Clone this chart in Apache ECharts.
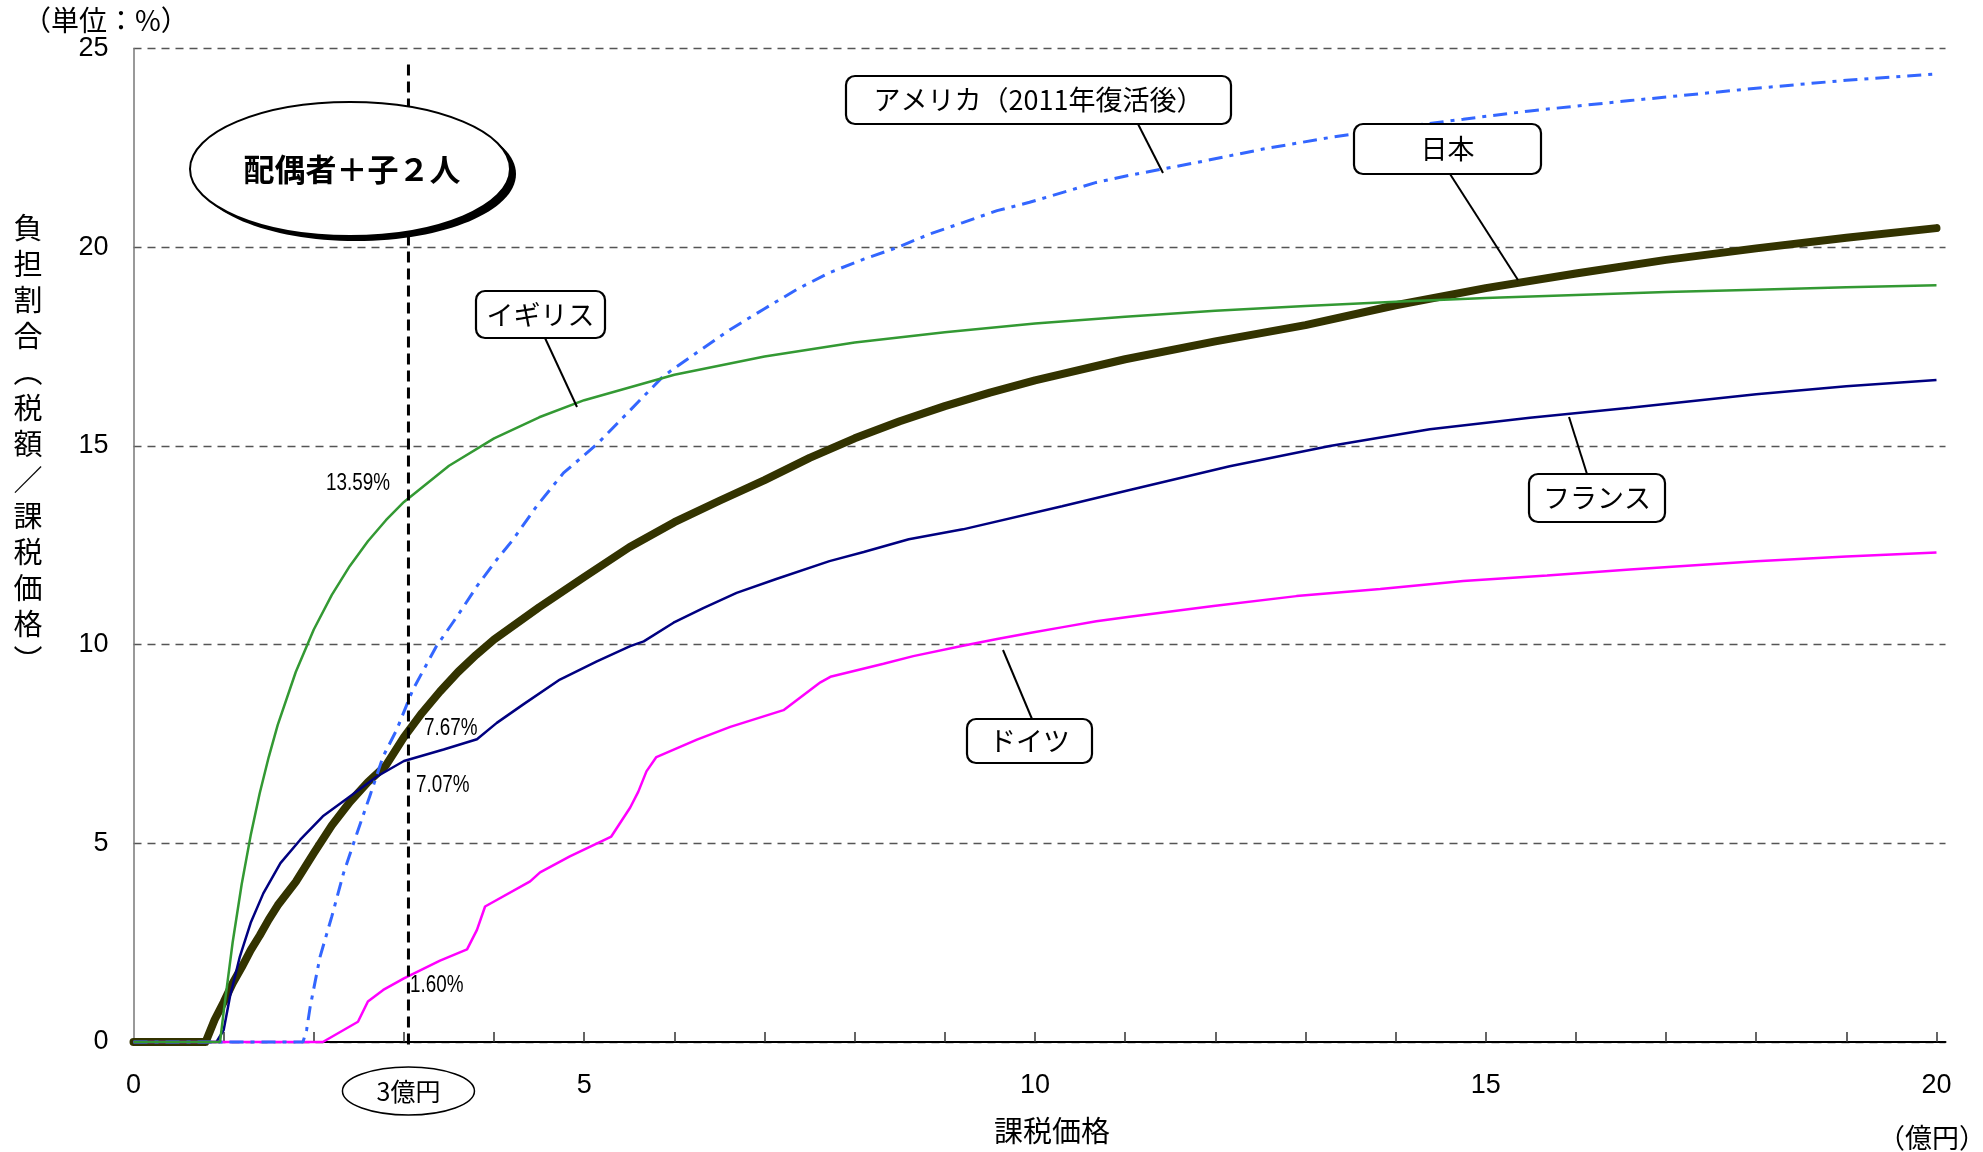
<!DOCTYPE html>
<html>
<head>
<meta charset="utf-8">
<script src="https://cdn.jsdelivr.net/npm/echarts@6.0.0/dist/echarts.min.js"></script>
<style>
html,body{margin:0;padding:0;background:#fff;}
#main{width:1983px;height:1152px;}
</style>
</head>
<body>
<div id="main"></div>
<script>
// ---- data (x: 課税価格 億円, y: 負担割合 %) ----
const japan = [[0,0],[0.8,0],[0.9,0.56],[1.0,1.0],[1.1,1.48],[1.2,1.88],[1.3,2.31],[1.4,2.68],[1.5,3.08],[1.6,3.44],[1.8,4.03],[2.0,4.75],[2.2,5.45],[2.4,6.04],[2.6,6.54],[2.8,6.96],[3.0,7.67],[3.2,8.28],[3.4,8.82],[3.6,9.31],[3.8,9.74],[4.0,10.13],[4.5,10.94],[5.0,11.7],[5.5,12.45],[6.0,13.08],[6.5,13.62],[7.0,14.14],[7.5,14.7],[8.0,15.19],[8.5,15.62],[9.0,16.0],[9.5,16.34],[10,16.65],[11,17.18],[12,17.63],[13,18.04],[14,18.54],[15,18.97],[16,19.34],[17,19.68],[18,19.97],[19,20.24],[20,20.48]];
const uk = [[0,0],[0.96,0],[1.0,0.76],[1.1,2.51],[1.2,3.97],[1.3,5.2],[1.4,6.26],[1.5,7.17],[1.6,7.98],[1.8,9.31],[2.0,10.38],[2.2,11.25],[2.4,11.98],[2.6,12.6],[2.8,13.13],[3.0,13.59],[3.5,14.5],[4.0,15.19],[4.5,15.72],[5,16.15],[6,16.79],[7,17.25],[8,17.6],[9,17.86],[10,18.08],[11,18.25],[12,18.4],[13,18.52],[14,18.63],[15,18.72],[16,18.8],[17,18.87],[18,18.93],[19,18.99],[20,19.04]];
const france = [[0,0],[0.92,0],[1.0,0.3],[1.07,1.14],[1.18,2.15],[1.3,3.0],[1.44,3.74],[1.63,4.5],[1.85,5.09],[2.1,5.68],[2.4,6.18],[2.7,6.68],[3.0,7.07],[3.44,7.36],[3.81,7.62],[4.03,8.03],[4.32,8.49],[4.73,9.12],[5.14,9.58],[5.51,9.96],[5.66,10.08],[5.99,10.55],[6.32,10.92],[6.69,11.3],[7.13,11.65],[7.72,12.1],[8.1,12.33],[8.6,12.65],[9.2,12.9],[10.3,13.48],[11.05,13.89],[12.16,14.49],[13.27,15.0],[14.38,15.42],[15.49,15.71],[16.6,15.96],[18,16.3],[19,16.5],[20,16.66]];
const germany = [[0,0],[2.1,0],[2.49,0.51],[2.6,1.02],[2.77,1.31],[3.0,1.6],[3.4,2.05],[3.7,2.33],[3.81,2.82],[3.9,3.41],[4.4,4.04],[4.51,4.27],[4.84,4.67],[5.3,5.17],[5.51,5.9],[5.6,6.3],[5.69,6.81],[5.8,7.17],[6.25,7.61],[6.62,7.93],[7.21,8.35],[7.62,9.05],[7.73,9.19],[8.32,9.52],[8.65,9.71],[9.2,9.97],[9.58,10.14],[9.94,10.29],[10.31,10.44],[10.68,10.59],[11.05,10.7],[11.98,10.97],[12.9,11.22],[13.83,11.4],[14.75,11.6],[15.68,11.74],[16.6,11.89],[18,12.1],[19,12.22],[20,12.32]];
const usa = [[0,0],[1.88,0],[1.92,0.3],[1.96,0.89],[2.07,2.15],[2.2,3.16],[2.33,4.25],[2.48,5.26],[2.62,6.18],[2.77,7.19],[2.92,7.86],[3.1,8.87],[3.36,9.96],[3.59,10.71],[3.81,11.47],[4.03,12.14],[4.21,12.64],[4.47,13.48],[4.77,14.32],[5.14,15.04],[5.51,15.9],[5.88,16.76],[6.25,17.35],[6.62,17.93],[6.99,18.44],[7.36,18.94],[7.72,19.36],[8.1,19.7],[8.47,19.99],[8.83,20.33],[9.2,20.62],[9.58,20.92],[9.94,21.13],[10.31,21.38],[10.68,21.63],[11.05,21.81],[11.79,22.13],[12.53,22.47],[13.27,22.76],[14.0,23.01],[14.75,23.22],[15.49,23.43],[16.6,23.69],[18,24.0],[19,24.2],[20,24.36]];
const xLabelValues = [0,5,10,15,20];
const xTickValues = [1,2,3,4,5,6,7,8,9,10,11,12,13,14,15,16,17,18,19,20];
const markX = 3.05;        // 3億円 reference line (as placed in the reference drawing)
const markYRange = [24.6, -0.15];

const JP = '"Noto Sans CJK JP", "Noto Sans", sans-serif';
const NUM = '"Liberation Sans", Arial, sans-serif';

function callout(x, y, w, h, text, lx1, ly1, lx2, ly2) {
  return [
    {type:'line', shape:{x1:lx1,y1:ly1,x2:lx2,y2:ly2}, style:{stroke:'#000', lineWidth:2}, z:10},
    {type:'rect', shape:{x:x,y:y,width:w,height:h,r:9}, style:{fill:'#fff', stroke:'#000', lineWidth:2.2}, z:11},
    {type:'text', x:x+w/2, y:y+h/2, style:{text:text, fill:'#000', font:'27px ' + JP, textAlign:'center', textVerticalAlign:'middle'}, z:12}
  ];
}
function valLabel(x, y, text, align) {
  return {type:'text', x:x, y:y, scaleX:0.82, style:{text:text, fill:'#000', font:'23px ' + NUM, textAlign:align, textVerticalAlign:'middle'}, z:15};
}

const chart = echarts.init(document.getElementById('main'), null, {renderer:'canvas'});
const lineBase = {type:'line', showSymbol:false, symbol:'none', smooth:false, clip:false, animation:false};

const option = {
  animation:false,
  backgroundColor:'#fff',
  grid:{left:133.5, right:37.5, top:48.5, bottom:110, containLabel:false},
  xAxis:{
    type:'value', min:0, max:20.1,
    axisLine:{show:true, onZero:false, lineStyle:{color:'#000', width:2}},
    axisTick:{show:true, inside:true, length:10, customValues:xTickValues, lineStyle:{color:'#333', width:1.5}},
    axisLabel:{customValues:xLabelValues, color:'#000', fontSize:27, fontFamily:NUM, margin:30},
    splitLine:{show:false}
  },
  yAxis:{
    type:'value', min:0, max:25, interval:5,
    axisLine:{show:true, lineStyle:{color:'#777', width:1.5}},
    axisTick:{show:false},
    axisLabel:{color:'#000', fontSize:27, fontFamily:NUM, margin:25},
    splitLine:{show:true, lineStyle:{color:'#555', width:1.3, type:[8,6]}}
  },
  series:[
    Object.assign({}, lineBase, {name:'日本', data:japan, z:3, lineStyle:{color:'#333300', width:8, cap:'round', join:'round'}}),
    Object.assign({}, lineBase, {name:'フランス', data:france, z:4, lineStyle:{color:'#000080', width:2.5}}),
    Object.assign({}, lineBase, {name:'ドイツ', data:germany, z:4, lineStyle:{color:'#FF00FF', width:2.5}}),
    Object.assign({}, lineBase, {name:'アメリカ', data:usa, z:5, lineStyle:{color:'#3366FF', width:3, type:[14,7,4,7]}}),
    Object.assign({}, lineBase, {name:'イギリス', data:uk, z:6, lineStyle:{color:'#339933', width:2.5}})
  ]
};
chart.setOption(option);

const p1 = chart.convertToPixel({gridIndex:0}, [markX, markYRange[0]]);
const p2 = chart.convertToPixel({gridIndex:0}, [markX, markYRange[1]]);

const graphics = [
  {type:'line', shape:{x1:p1[0], y1:p1[1], x2:p2[0], y2:p2[1]}, style:{stroke:'#000', lineWidth:3, lineDash:[11,6]}, z:8},
  {type:'text', left:23, top:6, style:{text:'（単位：%）', fill:'#000', font:'28px ' + JP}},
  {type:'text', x:28, y:210, style:{text:'負\n担\n割\n合\n︵\n税\n額\n／\n課\n税\n価\n格\n︶', fill:'#000', font:'29px ' + JP, textAlign:'center', lineHeight:36}},
  // ellipse 配偶者＋子２人
  {type:'ellipse', shape:{cx:356, cy:174, rx:160, ry:67}, style:{fill:'#000'}, z:20},
  {type:'ellipse', shape:{cx:350, cy:169, rx:160, ry:67}, style:{fill:'#fff', stroke:'#000', lineWidth:2}, z:21},
  {type:'text', x:352, y:169, style:{text:'配偶者＋子２人', fill:'#000', font:'bold 31px ' + JP, textAlign:'center', textVerticalAlign:'middle'}, z:22},
  // 3億円 ellipse
  {type:'ellipse', shape:{cx:p1[0], cy:1091, rx:66, ry:24}, style:{fill:'#fff', stroke:'#000', lineWidth:1.5}, z:20},
  {type:'text', x:p1[0], y:1091, style:{text:'3億円', fill:'#000', font:'25px ' + JP, textAlign:'center', textVerticalAlign:'middle'}, z:21},
  // axis names
  {type:'text', x:1052, y:1131, style:{text:'課税価格', fill:'#000', font:'29px ' + JP, textAlign:'center', textVerticalAlign:'middle'}},
  {type:'text', x:1932, y:1138, style:{text:'（億円）', fill:'#000', font:'27px ' + JP, textAlign:'center', textVerticalAlign:'middle'}},
  // value labels
  valLabel(390, 484, '13.59%', 'right'),
  valLabel(424, 729, '7.67%', 'left'),
  valLabel(416, 786, '7.07%', 'left'),
  valLabel(410, 986, '1.60%', 'left')
]
  .concat(callout(476, 291, 129, 47, 'イギリス', 545, 338, 577, 407))
  .concat(callout(846, 76, 385, 48, 'アメリカ（2011年復活後）', 1138, 124, 1163, 173))
  .concat(callout(1354, 124, 187, 50, '日本', 1450, 174, 1518, 280))
  .concat(callout(1529, 474, 136, 48, 'フランス', 1569, 417, 1587, 474))
  .concat(callout(967, 719, 125, 44, 'ドイツ', 1003, 650, 1032, 719));

chart.setOption({graphic: graphics});
</script>
</body>
</html>
